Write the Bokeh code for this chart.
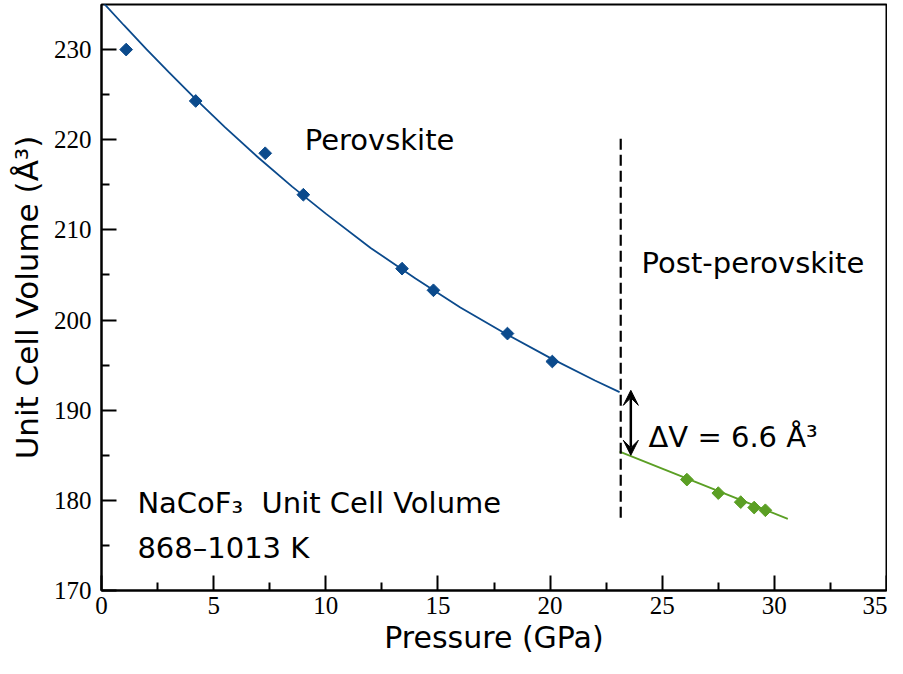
from bokeh.plotting import figure
from bokeh.models import Range1d, FixedTicker, Arrow, VeeHead
from bokeh.core.properties import value
from bokeh.embed import file_html
from bokeh.resources import INLINE

# ---- data ----
perov_p = [1.1, 4.2, 7.3, 9.0, 13.4, 14.8, 18.1, 20.1]
perov_v = [230.0, 224.3, 218.5, 213.9, 205.7, 203.3, 198.5, 195.4]

post_p = [26.1, 27.5, 28.5, 29.1, 29.6]
post_v = [182.3, 180.8, 179.8, 179.2, 178.9]

perov_fit_p = [0, 1, 2, 3, 4.2, 5.5, 7, 8.5, 10, 12, 14, 16, 18, 20, 22, 23.1]
perov_fit_v = [235.4, 232.7, 230.05, 227.5, 224.5, 221.4, 218.0, 214.8, 211.8,
               208.0, 204.6, 201.4, 198.5, 195.8, 193.3, 192.0]

post_fit_p = [23.1, 30.6]
post_fit_v = [185.4, 177.95]

boundary_p = [23.15, 23.15]
boundary_v = [220.1, 177.8]

x_ticks = [0, 5, 10, 15, 20, 25, 30, 35]
x_minor = [2.5, 7.5, 12.5, 17.5, 22.5, 27.5, 32.5]
y_ticks = [170, 180, 190, 200, 210, 220, 230]
y_minor = [175, 185, 195, 205, 215, 225]

labels_x = [9.06, 24.08, 24.39, 1.6, 1.6]
labels_y = [220.0, 206.3, 187.0, 179.7, 174.75]
labels_t = ["Perovskite", "Post-perovskite", "\u0394V = 6.6 \u00c5\u00b3",
            "NaCoF\u2083\u00a0 Unit Cell Volume", "868\u20131013 K"]

arrow_p = 23.6
arrow_v_top = 192.2
arrow_v_bottom = 185.0

BLUE = "#0b4a8c"
GREEN = "#5b9f24"
SANS = "DejaVu Sans"
SERIF = "Liberation Serif"

p = figure(width=887, height=658, output_backend="svg", toolbar_location=None,
           x_range=Range1d(0, 35), y_range=Range1d(170, 235),
           min_border_left=101, min_border_right=1, min_border_top=4,
           min_border_bottom=68)

p.xgrid.visible = False
p.ygrid.visible = False
p.outline_line_color = "black"
p.outline_line_width = 2
p.background_fill_color = "white"
p.border_fill_color = "white"

for ax, ticks, minor in ((p.xaxis[0], x_ticks, x_minor), (p.yaxis[0], y_ticks, y_minor)):
    ax.ticker = FixedTicker(ticks=ticks, minor_ticks=minor)
    ax.axis_line_width = 2
    ax.axis_line_color = "black"
    ax.major_tick_in = 15
    ax.major_tick_out = 0
    ax.minor_tick_in = 8
    ax.minor_tick_out = 0
    ax.major_tick_line_width = 2
    ax.minor_tick_line_width = 2
    ax.major_label_text_font = SERIF
    ax.major_label_text_font_size = "25px"
    ax.major_label_text_color = "black"
    ax.axis_label_text_font = SANS
    ax.axis_label_text_font_style = "normal"
    ax.axis_label_text_color = "black"

p.xaxis.axis_label = "Pressure (GPa)"
p.xaxis.axis_label_text_font_size = "30px"
p.xaxis.major_label_standoff = 6
p.xaxis.axis_label_standoff = 3
p.yaxis.axis_label = "Unit Cell Volume (\u00c5\u00b3)"
p.yaxis.axis_label_text_font_size = "31px"
p.yaxis.major_label_standoff = 10
p.yaxis.axis_label_standoff = 6

# fitted curves
p.line(perov_fit_p, perov_fit_v, line_color=BLUE, line_width=1.8)
p.line(post_fit_p, post_fit_v, line_color=GREEN, line_width=1.8)

# data points
p.scatter(perov_p, perov_v, marker="square", angle=0.785398, size=9,
          fill_color=BLUE, line_color=BLUE)
p.scatter(post_p, post_v, marker="square", angle=0.785398, size=9,
          fill_color=GREEN, line_color=GREEN)

# phase boundary
p.line(boundary_p, boundary_v, line_color="black", line_width=2.2, line_dash="11 5")

# volume jump arrow
p.add_layout(Arrow(x_start=arrow_p, y_start=arrow_v_bottom, x_end=arrow_p, y_end=arrow_v_top,
                   line_color="black", line_width=2.5,
                   start=VeeHead(size=15, fill_color="black", line_color="black"),
                   end=VeeHead(size=15, fill_color="black", line_color="black")))

p.text(x=labels_x, y=labels_y, text=labels_t, text_font=value(SANS),
       text_font_size="29px", text_color="black",
       text_align="left", text_baseline="alphabetic")

open("out.html", "w").write(file_html(p, INLINE))
